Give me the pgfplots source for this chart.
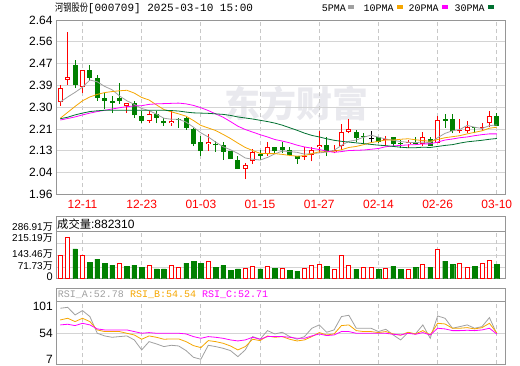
\documentclass[border=0pt]{standalone}
\usepackage{pgfplots}
\pgfplotsset{compat=1.18}
\usepackage{pgfplotstable}
\usepackage{fontspec}
\setmainfont{Liberation Sans}
\newfontfamily\cjk{Noto Sans CJK SC}
\newfontfamily\cjkn[FakeStretch=0.78]{Noto Sans CJK SC}
\newfontfamily\mono{Liberation Mono}
\definecolor{framegray}{RGB}{150,150,150}
\definecolor{gridgray}{RGB}{212,212,212}
\definecolor{dashgray}{RGB}{200,200,200}
\definecolor{ma5}{RGB}{160,160,160}
\definecolor{ma10}{RGB}{245,166,0}
\definecolor{ma20}{RGB}{255,0,255}
\definecolor{ma30}{RGB}{0,112,48}
\definecolor{upred}{RGB}{255,0,0}
\definecolor{dngreen}{RGB}{0,128,0}
\definecolor{wm}{RGB}{233,233,238}
\newcommand{\fs}[1]{\fontsize{#1}{#1}\selectfont}

% candles: index, open, high, low, close
\pgfplotstableread{
i o h l c
0 2.319 2.386 2.306 2.373
1 2.408 2.592 2.386 2.416
3 2.377 2.444 2.355 2.444
9 2.306 2.317 2.277 2.317
12 2.248 2.285 2.238 2.274
15 2.238 2.290 2.227 2.247
20 2.157 2.197 2.130 2.166
25 2.060 2.084 2.020 2.076
26 2.089 2.136 2.079 2.127
28 2.117 2.166 2.109 2.145
33 2.107 2.145 2.096 2.111
34 2.112 2.145 2.089 2.135
35 2.145 2.206 2.120 2.153
37 2.125 2.153 2.120 2.135
38 2.148 2.236 2.135 2.203
39 2.205 2.254 2.198 2.215
44 2.173 2.187 2.152 2.177
47 2.156 2.173 2.139 2.165
49 2.156 2.203 2.148 2.184
51 2.161 2.265 2.161 2.252
54 2.207 2.254 2.198 2.212
55 2.207 2.247 2.200 2.224
57 2.218 2.238 2.207 2.223
58 2.238 2.285 2.224 2.265
}\tabup
\pgfplotstableread{
i o h l c
2 2.464 2.484 2.376 2.386
4 2.444 2.464 2.403 2.413
5 2.413 2.426 2.326 2.337
6 2.336 2.355 2.294 2.326
7 2.326 2.345 2.277 2.318
8 2.336 2.393 2.313 2.326
10 2.315 2.324 2.257 2.268
11 2.267 2.285 2.239 2.248
13 2.274 2.285 2.238 2.257
14 2.247 2.257 2.227 2.237
16 2.254 2.257 2.218 2.251
17 2.256 2.261 2.212 2.218
18 2.216 2.218 2.148 2.156
19 2.166 2.187 2.111 2.129
21 2.156 2.169 2.127 2.151
22 2.153 2.165 2.096 2.127
23 2.129 2.129 2.098 2.098
24 2.096 2.109 2.059 2.059
27 2.116 2.133 2.093 2.111
29 2.145 2.145 2.120 2.129
30 2.145 2.166 2.122 2.135
31 2.134 2.145 2.109 2.113
32 2.109 2.109 2.079 2.099
36 2.153 2.182 2.109 2.127
40 2.203 2.212 2.166 2.178
41 2.187 2.200 2.156 2.182
43 2.184 2.184 2.161 2.163
45 2.184 2.184 2.145 2.156
46 2.162 2.173 2.139 2.156
48 2.165 2.184 2.156 2.158
50 2.176 2.184 2.148 2.148
52 2.254 2.274 2.220 2.248
53 2.254 2.274 2.198 2.207
56 2.223 2.223 2.198 2.218
59 2.267 2.277 2.225 2.225
}\tabdn
\pgfplotstableread{
i o h l c
42 2.1765 2.206 2.161 2.1795
}\tabdoji

% moving averages and RSI
\pgfplotstableread{
i m5 m10 m20 m30 ra rb rc
0 2.320 2.257 2.250 2.255 98.3 77.6 68.8
1 2.340 2.280 2.256 2.261 100.0 80.6 70.0
2 2.358 2.303 2.262 2.270 86.5 74.7 67.6
3 2.378 2.325 2.270 2.277 94.2 80.6 71.7
4 2.406 2.340 2.277 2.283 83.6 74.7 68.8
5 2.399 2.350 2.283 2.286 54.0 59.9 61.7
6 2.381 2.357 2.288 2.288 49.3 57.0 59.9
7 2.368 2.361 2.293 2.288 46.9 57.0 59.9
8 2.344 2.364 2.298 2.288 48.1 57.0 59.9
9 2.325 2.366 2.302 2.288 49.3 54.0 59.9
10 2.311 2.355 2.305 2.288 42.2 51.0 57.0
11 2.295 2.338 2.306 2.288 24.5 43.4 54.0
12 2.287 2.328 2.311 2.288 39.2 49.3 55.2
13 2.273 2.309 2.313 2.288 35.1 46.9 54.0
14 2.257 2.291 2.314 2.288 30.4 43.4 54.0
15 2.253 2.282 2.315 2.287 32.7 44.0 54.0
16 2.253 2.274 2.316 2.285 31.5 44.0 54.0
17 2.242 2.265 2.313 2.281 23.3 39.2 52.8
18 2.222 2.248 2.307 2.278 11.4 32.1 48.1
19 2.200 2.229 2.298 2.277 7.9 28.6 45.1
20 2.184 2.219 2.287 2.276 32.7 41.0 48.1
21 2.164 2.209 2.274 2.274 30.4 39.2 46.9
22 2.146 2.194 2.261 2.272 27.4 36.3 45.1
23 2.134 2.178 2.244 2.268 23.3 31.5 42.2
24 2.120 2.160 2.226 2.262 12.6 24.5 40.4
25 2.102 2.143 2.213 2.258 24.5 30.4 42.2
26 2.097 2.131 2.203 2.254 48.1 43.4 46.9
27 2.094 2.120 2.193 2.249 43.4 41.0 43.4
28 2.104 2.119 2.184 2.244 58.7 49.3 48.1
29 2.118 2.119 2.174 2.238 52.8 46.9 48.1
30 2.129 2.116 2.168 2.230 55.8 48.1 48.1
31 2.127 2.112 2.161 2.220 48.1 43.4 46.9
32 2.124 2.109 2.152 2.210 43.4 40.4 45.1
33 2.117 2.111 2.145 2.199 48.1 42.2 45.1
34 2.119 2.119 2.140 2.190 62.9 48.1 49.3
35 2.122 2.126 2.135 2.184 68.8 55.2 52.8
36 2.125 2.126 2.129 2.177 55.8 51.0 49.9
37 2.132 2.128 2.124 2.171 59.9 52.8 51.0
38 2.151 2.134 2.127 2.167 83.6 67.6 57.0
39 2.167 2.143 2.131 2.164 85.9 68.8 57.0
40 2.172 2.147 2.132 2.161 62.9 58.7 54.0
41 2.183 2.154 2.133 2.158 62.9 57.0 54.0
42 2.191 2.162 2.136 2.155 62.9 57.0 54.0
43 2.183 2.167 2.139 2.152 57.0 55.2 54.0
44 2.176 2.172 2.146 2.150 61.1 57.0 54.0
45 2.171 2.172 2.149 2.147 51.0 52.8 52.2
46 2.166 2.175 2.151 2.144 42.2 50.5 51.0
47 2.163 2.177 2.153 2.142 55.2 55.8 54.0
48 2.162 2.173 2.154 2.142 52.8 52.8 52.2
49 2.164 2.170 2.157 2.144 68.8 58.7 55.2
50 2.162 2.167 2.157 2.143 45.1 51.0 51.0
51 2.181 2.174 2.164 2.147 84.7 71.7 62.9
52 2.198 2.181 2.172 2.151 80.6 70.5 61.7
53 2.208 2.185 2.176 2.154 62.9 62.9 58.7
54 2.213 2.189 2.181 2.160 65.8 62.9 58.7
55 2.229 2.196 2.184 2.165 68.8 64.0 59.3
56 2.222 2.202 2.189 2.168 62.9 61.7 58.7
57 2.217 2.208 2.193 2.171 65.8 64.0 59.9
58 2.228 2.218 2.196 2.175 81.8 71.7 62.9
59 2.231 2.222 2.196 2.178 52.78 54.54 52.71
}\tabma

% volume (10k shares), colour by change vs previous close
\pgfplotstableread{
i v
0 141.4
1 250.6
3 141.4
8 93.0
12 80.8
15 80.8
16 70.7
20 105.1
25 64.7
26 74.8
28 76.8
30 64.7
33 64.7
34 80.8
35 88.9
37 58.6
38 141.4
39 80.8
41 70.7
42 70.7
44 64.7
47 58.6
49 88.9
51 179.8
54 95.0
55 70.7
57 95.0
58 113.2
}\tabvup
\pgfplotstableread{
i v
2 181.9
4 101.0
5 119.2
6 95.0
7 82.8
9 76.8
10 82.8
11 70.7
13 60.6
14 60.6
17 95.0
18 107.1
19 95.0
21 70.7
22 80.8
23 52.5
24 60.6
27 60.6
29 64.7
31 52.5
32 46.5
36 76.8
40 58.6
43 58.6
45 76.8
46 58.6
48 70.7
50 70.7
52 107.1
53 88.9
56 76.8
59 88.23
}\tabvdn

\pgfplotsset{
  panel/.style={scale only axis, anchor=south west, width=449.7pt,
    xmin=-0.58, xmax=60.2,
    axis line style={draw=framegray, line width=0.8pt},
    major tick length=0pt, tick style={draw=none}},
  body/.style 2 args={draw=none, mark=none, forget plot,
    error bars/.cd, y dir=plus, y explicit, error mark=none,
    error bar style={draw=#1, line width=#2, solid}},
}

\begin{document}
\begin{tikzpicture}
\path[use as bounding box] (0pt,0pt) rectangle (520pt,365pt);

% watermark
\node[text=wm, font=\cjk\bfseries\fs{36}] at (296pt,261pt) {东方财富};

% title and legend
\node[anchor=west, inner sep=0] at (55pt,357pt) {{\cjkn\fs{10.5}河钢股份}{\mono\fs{11}[000709] 2025-03-10 15:00}};
\node[anchor=west, inner sep=0] at (321.7pt,357pt) {\mono\fs{10}5PMA};
\fill[ma5] (347.5pt,356pt) rectangle (353.5pt,359.5pt);
\node[anchor=west, inner sep=0] at (363.3pt,357pt) {\mono\fs{10}10PMA};
\fill[ma10] (396.5pt,356pt) rectangle (402.5pt,359.5pt);
\node[anchor=west, inner sep=0] at (408.3pt,357pt) {\mono\fs{10}20PMA};
\fill[ma20] (442pt,356pt) rectangle (448pt,359.5pt);
\node[anchor=west, inner sep=0] at (454.3pt,357pt) {\mono\fs{10}30PMA};
\fill[ma30] (487.5pt,356pt) rectangle (493.5pt,359.5pt);

% ---------- price panel ----------
\begin{axis}[panel, at={(56pt,170.6pt)}, height=174.4pt,
  ymin=1.96, ymax=2.64,
  xtick={3,11,19,27,35,43,51,59},
  xticklabels={12-11,12-23,01-03,01-15,01-27,02-14,02-26,03-10},
  xticklabel style={text=upred, font=\fs{12}, anchor=center, yshift=-10pt},
  ytick={1.96,2.045,2.13,2.215,2.30,2.385,2.47,2.555,2.64},
  yticklabels={1.96,2.04,2.13,2.21,2.30,2.39,2.47,2.56,2.64},
  yticklabel style={font=\fs{12}, anchor=east},
  xmajorgrids, ymajorgrids,
  y grid style={gridgray, line width=0.8pt},
  x grid style={dashgray, line width=0.8pt, dash pattern=on 4pt off 3pt},
]
% wicks
\addplot[body={upred}{1pt}] table[x=i, y=l, y error plus expr=\thisrow{h}-\thisrow{l}] {\tabup};
\addplot[body={dngreen}{1pt}] table[x=i, y=l, y error plus expr=\thisrow{h}-\thisrow{l}] {\tabdn};
\addplot[body={black}{1pt}] table[x=i, y=l, y error plus expr=\thisrow{h}-\thisrow{l}] {\tabdoji};
% bodies
\addplot[body={dngreen}{5pt}] table[x=i, y=c, y error plus expr=\thisrow{o}-\thisrow{c}] {\tabdn};
\addplot[body={upred}{5pt}] table[x=i, y=o, y error plus expr=\thisrow{c}-\thisrow{o}] {\tabup};
\addplot[body={white}{3.2pt}] table[x=i, y expr=\thisrow{o}+0.0039, y error plus expr={max(\thisrow{c}-\thisrow{o}-0.0078,0)}] {\tabup};
\addplot[body={black}{5pt}] table[x=i, y=o, y error plus expr=\thisrow{c}-\thisrow{o}] {\tabdoji};
% moving averages
\addplot[ma5, line width=0.8pt] table[x=i, y=m5] {\tabma};
\addplot[ma10, line width=0.8pt] table[x=i, y=m10] {\tabma};
\addplot[ma20, line width=0.8pt] table[x=i, y=m20] {\tabma};
\addplot[ma30, line width=0.8pt] table[x=i, y=m30] {\tabma};
\end{axis}

% ---------- volume panel ----------
\node[anchor=west, inner sep=0] at (57pt,141pt) {{\cjk\fs{11.3}成交量}{\fs{12}:882310}};
\begin{axis}[panel, at={(56pt,86.3pt)}, height=62.7pt,
  ymin=0, ymax=382.75, xtick=\empty,
  ytick={71.73,143.46,215.19}, yticklabels={},
  ymajorgrids, y grid style={gridgray, line width=0.8pt},
]
\pgfplotsinvokeforeach{3,11,19,27,35,43,51,59}{
  \draw[dashgray, line width=0.8pt, dash pattern=on 4pt off 3pt] (axis cs:#1,0) -- (axis cs:#1,286.91);
}
\draw[framegray, line width=0.8pt] (rel axis cs:0,0.7496) -- (rel axis cs:1,0.7496);
\addplot[ybar, bar width=4.6pt, bar shift=0pt, fill=dngreen, draw=dngreen, line width=0.4pt] table[x=i, y=v] {\tabvdn};
\addplot[ybar, bar width=3.9pt, bar shift=0pt, fill=white, draw=upred, line width=0.9pt] table[x=i, y=v] {\tabvup};
\end{axis}
\node[anchor=east, font=\fs{10}, inner sep=0] at (53pt,137.8pt) {286.91{\cjk 万}};
\node[anchor=east, font=\fs{10}, inner sep=0] at (53pt,126.8pt) {215.19{\cjk 万}};
\node[anchor=east, font=\fs{10}, inner sep=0] at (53pt,110.7pt) {143.46{\cjk 万}};
\node[anchor=east, font=\fs{10}, inner sep=0] at (53pt,99.2pt) {71.73{\cjk 万}};
\node[anchor=east, font=\fs{11}, inner sep=0] at (53pt,88.3pt) {0};

% ---------- RSI panel ----------
\node[anchor=west, inner sep=0, text=ma5] at (57.7pt,70pt) {\mono\fs{10}RSI\_A:52.78};
\node[anchor=west, inner sep=0, text=ma10] at (130pt,70pt) {\mono\fs{10}RSI\_B:54.54};
\node[anchor=west, inner sep=0, text=ma20] at (202pt,70pt) {\mono\fs{10}RSI\_C:52.71};
\begin{axis}[panel, at={(56pt,0.7pt)}, height=76pt,
  ymin=-1, ymax=133.7, xtick=\empty,
  ytick={54}, yticklabels={},
  ymajorgrids, y grid style={gridgray, line width=0.8pt},
]
\pgfplotsinvokeforeach{3,11,19,27,35,43,51,59}{
  \draw[dashgray, line width=0.8pt, dash pattern=on 4pt off 3pt] (axis cs:#1,-1) -- (axis cs:#1,110);
}
\draw[framegray, line width=0.8pt] (rel axis cs:0,0.8241) -- (rel axis cs:1,0.8241);
\addplot[ma5, line width=0.8pt] table[x=i, y=ra] {\tabma};
\addplot[ma10, line width=0.8pt] table[x=i, y=rb] {\tabma};
\addplot[ma20, line width=0.8pt] table[x=i, y=rc] {\tabma};
\end{axis}
\node[anchor=east, font=\fs{12}, inner sep=0] at (53pt,59pt) {101};
\node[anchor=east, font=\fs{12}, inner sep=0] at (53pt,31.7pt) {54};
\node[anchor=east, font=\fs{12}, inner sep=0] at (53pt,6pt) {7};
\end{tikzpicture}
\end{document}
